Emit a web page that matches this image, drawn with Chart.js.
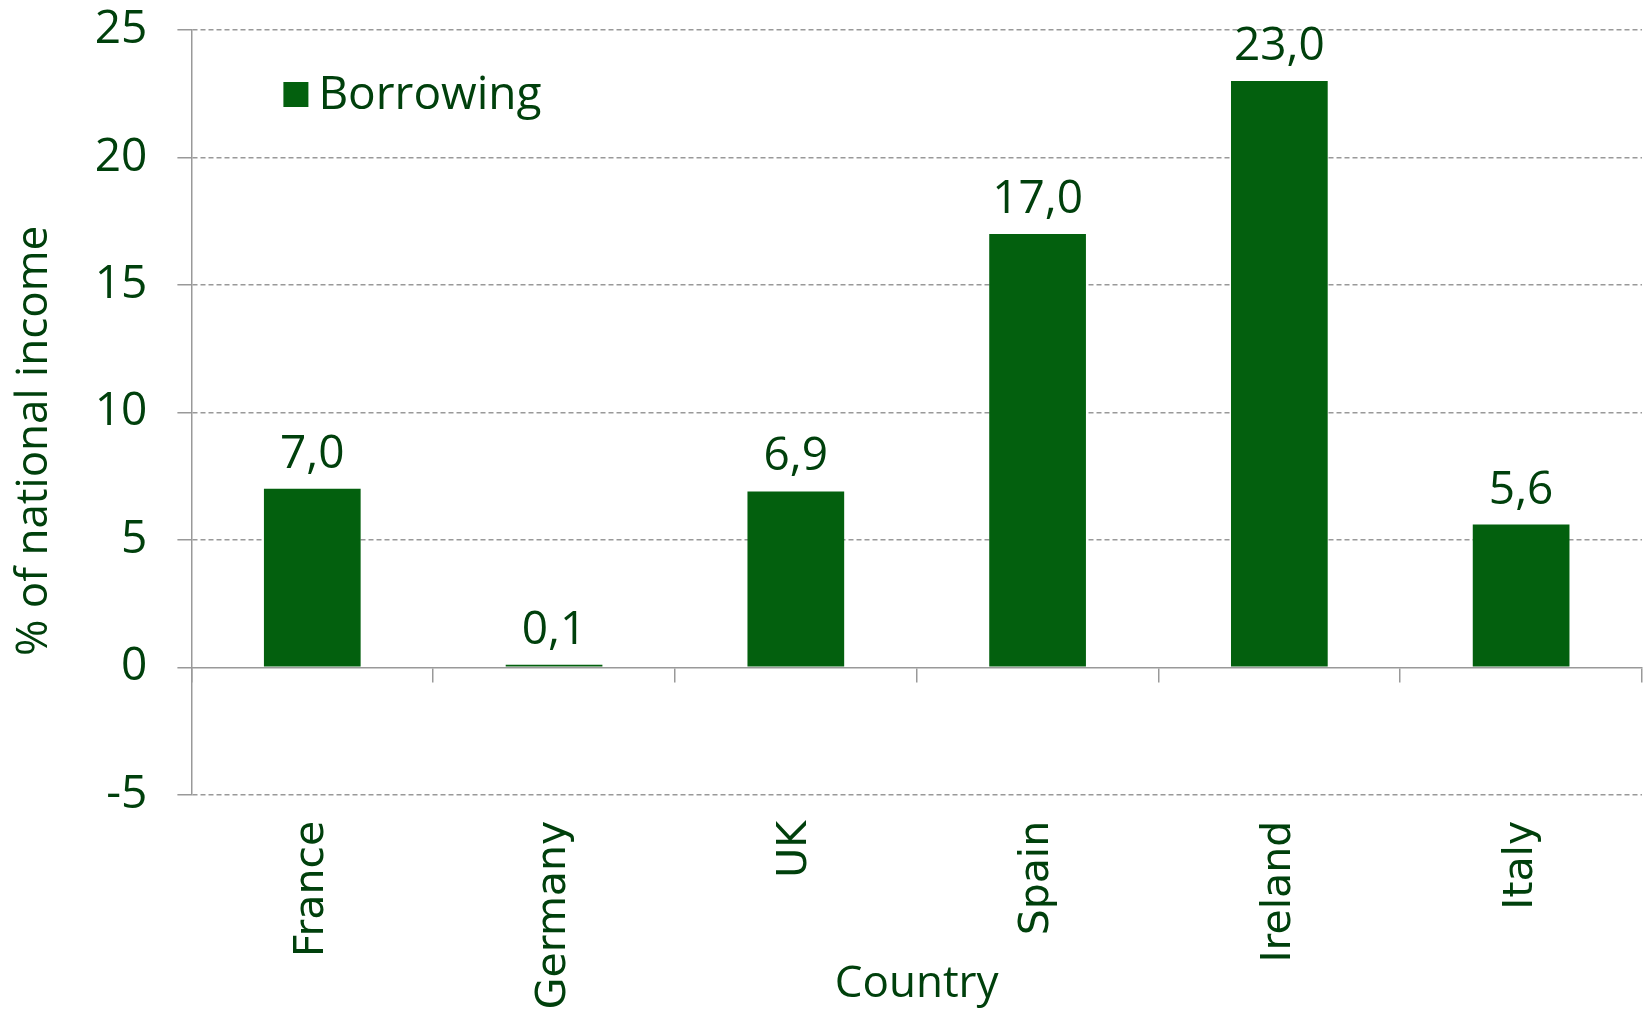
<!DOCTYPE html>
<html>
<head>
<meta charset="utf-8">
<script src="https://cdn.jsdelivr.net/npm/chart.js@4.4.0/dist/chart.umd.min.js"></script>
<style>
  html, body { margin: 0; padding: 0; background: #fff; }
  canvas { display: block; }
</style>
</head>
<body>
<canvas id="chart" width="1648" height="1011"></canvas>
<script>
const countries = ["France", "Germany", "UK", "Spain", "Ireland", "Italy"];
const borrowing = [7.0, 0.1, 6.9, 17.0, 23.0, 5.6];
const yTicks = [-5, 0, 5, 10, 15, 20, 25];

const barColor = "#03600e";
const textColor = "#00400c";
const gridColor = "#999999";
const font = '"Open Sans", "Noto Sans", sans-serif';

// legend drawn inside the plot, top left
const legendInside = {
  id: "legendInside",
  afterDraw(chart) {
    const { ctx, chartArea } = chart;
    const ds = chart.data.datasets[0];
    const x = chartArea.left + 92;
    const y = chartArea.top + 79;
    ctx.save();
    ctx.fillStyle = ds.backgroundColor;
    ctx.fillRect(x, y - 27, 25, 25);
    ctx.fillStyle = textColor;
    ctx.font = "46px " + font;
    ctx.textBaseline = "alphabetic";
    ctx.fillText(ds.label, x + 35, y);
    ctx.restore();
  }
};

// value labels above bars, comma decimals
const valueLabels = {
  id: "valueLabels",
  afterDatasetsDraw(chart) {
    const { ctx } = chart;
    const meta = chart.getDatasetMeta(0);
    ctx.save();
    ctx.fillStyle = textColor;
    ctx.font = "46px " + font;
    ctx.textAlign = "center";
    ctx.textBaseline = "alphabetic";
    meta.data.forEach((bar, i) => {
      const txt = borrowing[i].toFixed(1).replace(".", ",");
      ctx.fillText(txt, bar.x, bar.y - 21);
    });
    ctx.restore();
  }
};

new Chart(document.getElementById("chart"), {
  type: "bar",
  data: {
    labels: countries,
    datasets: [{
      label: "Borrowing",
      data: borrowing,
      backgroundColor: barColor,
      barPercentage: 0.4,
      categoryPercentage: 1.0
    }]
  },
  options: {
    responsive: false,
    animation: false,
    layout: { padding: { left: 8, right: 6, top: 30, bottom: 0 } },
    plugins: {
      legend: { display: false },
      tooltip: { enabled: false }
    },
    scales: {
      x: {
        position: "bottom",
        offset: true,
        grid: { display: false },
        border: { display: false },
        ticks: {
          color: textColor,
          font: { family: '"DejaVu Sans", sans-serif', size: 41 },
          minRotation: 90,
          maxRotation: 90,
          autoSkip: false,
          padding: 18
        },
        title: {
          display: true,
          text: "Country",
          color: textColor,
          font: { family: font, size: 44 },
          padding: { top: -69, bottom: 0 }
        }
      },
      x0: {
        type: "category",
        position: { y: 0 },
        offset: true,
        grid: {
          offset: true,
          drawOnChartArea: false,
          drawTicks: true,
          tickLength: 14,
          color: gridColor,
          lineWidth: 1.5
        },
        border: { display: true, color: gridColor, width: 1.5 },
        ticks: { display: false }
      },
      y: {
        min: -5,
        max: 25,
        afterBuildTicks: axis => { axis.ticks = yTicks.map(v => ({ value: v })); },
        // labels at the ends may overhang the plot, as in the original
        afterFit: axis => { axis.paddingTop = 0; axis.paddingBottom = 0; },
        grid: {
          color: c => (c.tick && c.tick.value === 0) ? "rgba(0,0,0,0)" : gridColor,
          tickColor: gridColor,
          lineWidth: 1.5,
          tickBorderDash: [],
          tickLength: 14
        },
        border: { display: true, color: gridColor, width: 1.5, dash: [5, 3] },
        ticks: {
          color: textColor,
          font: { family: font, size: 46 },
          padding: 30
        },
        title: {
          display: true,
          // trailing spaces nudge the title down a little, like the original
          text: "% of national income     ",
          color: textColor,
          font: { family: font, size: 44 },
          padding: { top: 0, bottom: 4 }
        }
      }
    }
  },
  plugins: [legendInside, valueLabels]
});
</script>
</body>
</html>
